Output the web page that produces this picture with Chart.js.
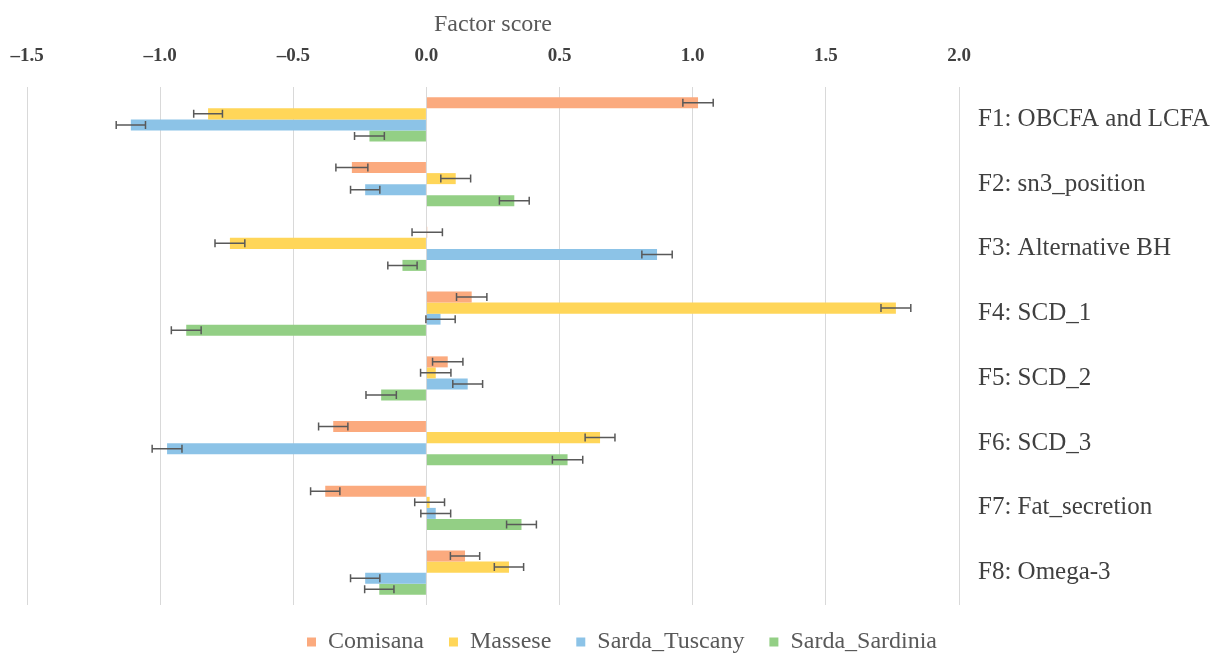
<!DOCTYPE html>
<html>
<head>
<meta charset="utf-8">
<script src="https://cdn.jsdelivr.net/npm/chart.js@4"></script>
<style>
  html, body { margin: 0; padding: 0; background: #fff; }
  #wrap { width: 1217px; height: 655px; }
</style>
</head>
<body>
<div id="wrap"><canvas id="factorChart"></canvas></div>
<script>
// Factor names (y categories)
const factors = ["F1: OBCFA and LCFA", "F2: sn3_position", "F3: Alternative BH", "F4: SCD_1",
                 "F5: SCD_2", "F6: SCD_3", "F7: Fat_secretion", "F8: Omega-3"];

// Mean factor scores per breed
const comisana = [1.02, -0.28, 0.003, 0.17, 0.08, -0.35, -0.38, 0.145];
const massese = [-0.82, 0.11, -0.738, 1.763, 0.035, 0.652, 0.012, 0.31];
const sardaTuscany = [-1.11, -0.23, 0.866, 0.053, 0.155, -0.974, 0.035, -0.23];
const sardaSardinia = [-0.214, 0.33, -0.09, -0.902, -0.17, 0.53, 0.357, -0.177];

// Standard errors (half width of the whiskers)
const errComisana = [0.057, 0.06, 0.057, 0.057, 0.057, 0.055, 0.055, 0.055];
const errMassese = [0.054, 0.056, 0.056, 0.056, 0.057, 0.056, 0.056, 0.055];
const errSardaTuscany = [0.055, 0.055, 0.057, 0.055, 0.056, 0.056, 0.056, 0.055];
const errSardaSardinia = [0.056, 0.056, 0.055, 0.056, 0.057, 0.057, 0.056, 0.055];

// Axis ticks
const xTicks = [-1.5, -1.0, -0.5, 0.0, 0.5, 1.0, 1.5, 2.0];

const serif = "'Liberation Serif', 'Times New Roman', serif";

// Draws the whiskers on top of each bar
const errorBars = {
    id: 'errorBars',
    afterDatasetsDraw(chart) {
        const ctx = chart.ctx;
        const xScale = chart.scales.x;
        ctx.save();
        ctx.strokeStyle = '#595959';
        ctx.lineWidth = 1.5;
        chart.data.datasets.forEach((ds, i) => {
            const meta = chart.getDatasetMeta(i);
            meta.data.forEach((bar, j) => {
                const v = ds.data[j];
                const e = ds.errors[j];
                const x1 = xScale.getPixelForValue(v - e);
                const x2 = xScale.getPixelForValue(v + e);
                const y = bar.y;
                ctx.beginPath();
                ctx.moveTo(x1, y); ctx.lineTo(x2, y);
                ctx.moveTo(x1, y - 4); ctx.lineTo(x1, y + 4);
                ctx.moveTo(x2, y - 4); ctx.lineTo(x2, y + 4);
                ctx.stroke();
            });
        });
        ctx.restore();
    }
};

// Keeps the legend strip at a fixed height so the plot ends where the original does
const legendHeight = {
    id: 'legendHeight',
    beforeInit(chart) {
        const fit = chart.legend.fit;
        chart.legend.fit = function () {
            fit.bind(chart.legend)();
            this.height = 50;
        };
    }
};

function makeSet(label, data, errors, color) {
    return {
        label: label,
        data: data,
        errors: errors,
        backgroundColor: color,
        borderWidth: 0,
        barPercentage: 1.0,
        categoryPercentage: 0.68
    };
}

new Chart(document.getElementById('factorChart'), {
    type: 'bar',
    data: {
        labels: factors,
        datasets: [
            makeSet('Comisana', comisana, errComisana, '#FBAA7E'),
            makeSet('Massese', massese, errMassese, '#FFD659'),
            makeSet('Sarda_Tuscany', sardaTuscany, errSardaTuscany, '#8CC3E7'),
            makeSet('Sarda_Sardinia', sardaSardinia, errSardaSardinia, '#93CF85')
        ]
    },
    options: {
        indexAxis: 'y',
        responsive: true,
        maintainAspectRatio: false,
        animation: false,
        layout: { padding: { left: 27, right: 0, top: 0, bottom: 0 } },
        plugins: {
            legend: {
                position: 'bottom',
                labels: {
                    boxWidth: 9, boxHeight: 9, padding: 25,
                    color: '#595959',
                    font: { family: serif, size: 24 }
                }
            },
            tooltip: { enabled: false }
        },
        scales: {
            x: {
                position: 'top',
                min: -1.5, max: 2.0,
                afterBuildTicks: axis => { axis.ticks = xTicks.map(v => ({ value: v })); },
                afterFit: axis => {
                    axis.height = 87;
                    axis.paddingLeft = 0;   // end labels may hang over the plot edges
                    axis.paddingRight = 0;
                },
                ticks: {
                    padding: 20,
                    color: '#404040',
                    font: { family: serif, size: 19, weight: 'bold' },
                    callback: v => (v < 0 ? '\u2013' + Math.abs(v).toFixed(1) : v.toFixed(1))
                },
                grid: { color: '#d9d9d9', lineWidth: 1, drawTicks: false },
                border: { display: false },
                title: {
                    display: true, text: 'Factor score',
                    color: '#595959',
                    font: { family: serif, size: 24 },
                    padding: { top: 10, bottom: 0 }
                }
            },
            y: {
                position: 'right',
                afterFit: axis => { axis.width = 258; },
                ticks: {
                    padding: 19,
                    color: '#404040',
                    font: { family: serif, size: 25 }
                },
                grid: { display: false, drawTicks: false },
                border: { display: false }
            }
        }
    },
    plugins: [errorBars, legendHeight]
});
</script>
</body>
</html>
